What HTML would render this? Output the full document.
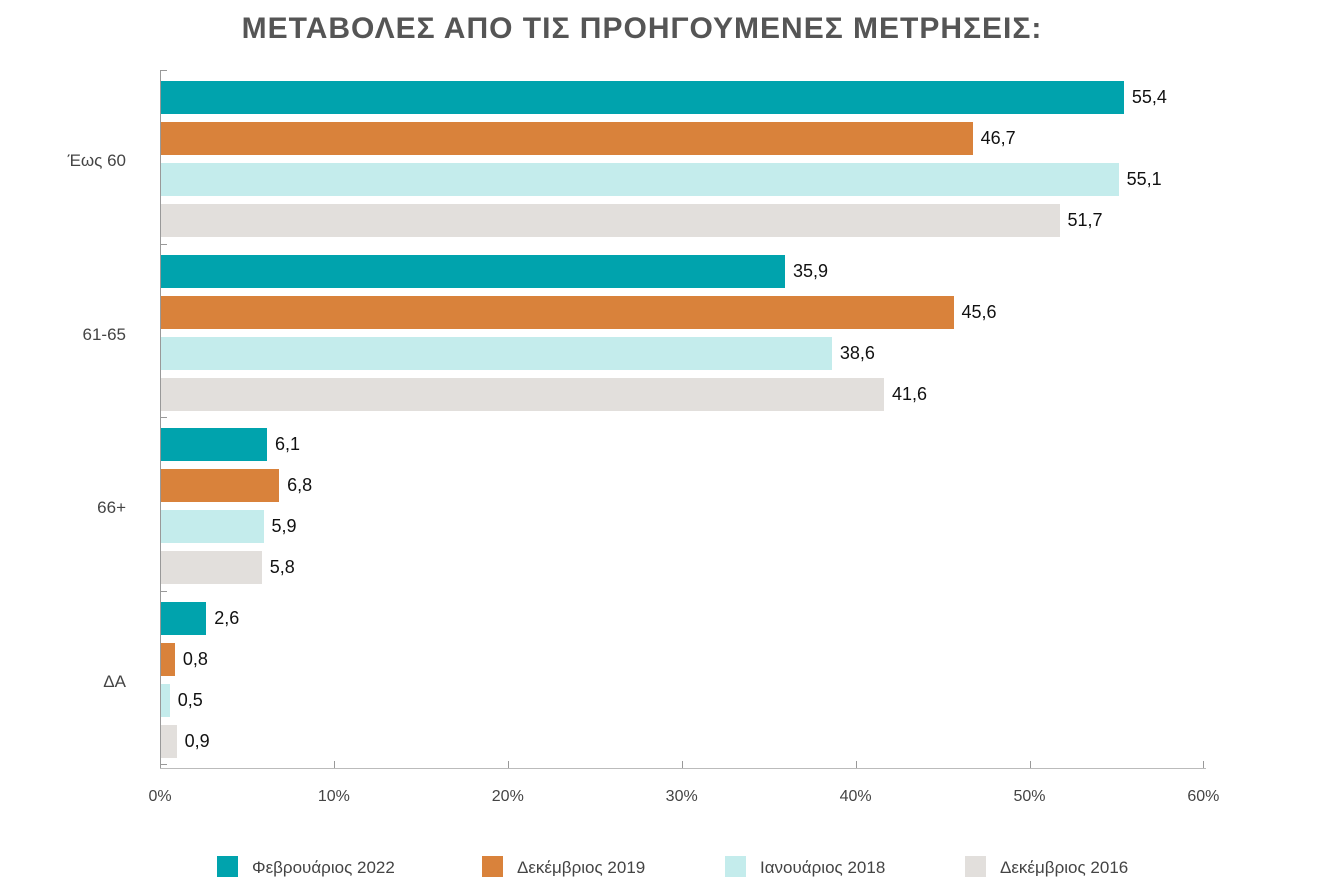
<!DOCTYPE html>
<html><head><meta charset="utf-8"><style>
body{margin:0;width:1344px;height:892px;background:#fff;position:relative;font-family:"Liberation Sans","DejaVu Sans",sans-serif;overflow:hidden}
.a{position:absolute}
.bar{position:absolute;height:33px}
.v{position:absolute;font-size:18px;color:#111;line-height:33px;font-weight:500}
.c{position:absolute;font-size:17px;color:#444;width:120px;text-align:right}
.t{position:absolute;font-size:16px;color:#444;top:788px;width:80px;text-align:center}
.lg{position:absolute;top:856px;font-size:17px;color:#444;line-height:22px}
.lg i{display:inline-block;width:21px;height:21px;vertical-align:-4px;margin-right:14px}
</style></head><body>
<div class="a" style="left:0;width:1284px;top:12px;text-align:center;font-size:30px;font-weight:bold;color:#555;letter-spacing:1px">ΜΕΤΑΒΟΛΕΣ ΑΠΟ ΤΙΣ ΠΡΟΗΓΟΥΜΕΝΕΣ ΜΕΤΡΗΣΕΙΣ:</div>
<div class="a" style="left:160px;top:70px;width:1px;height:698px;background:#999"></div>
<div class="a" style="left:160px;top:768px;width:1046px;height:1px;background:#bbb"></div>
<div id="g"></div>
<div class="c" style="left:6px;top:151px">Έως 60</div>
<div class="c" style="left:6px;top:325px">61-65</div>
<div class="c" style="left:6px;top:498px">66+</div>
<div class="c" style="left:6px;top:672px">ΔΑ</div>
<div class="lg" style="left:217px"><i style="background:#00a3ad"></i>Φεβρουάριος 2022</div>
<div class="lg" style="left:482px"><i style="background:#d9823b"></i>Δεκέμβριος 2019</div>
<div class="lg" style="left:725px"><i style="background:#c4ecec"></i>Ιανουάριος 2018</div>
<div class="lg" style="left:965px"><i style="background:#e2dfdc"></i>Δεκέμβριος 2016</div>
<script>
var d=[[55.4,46.7,55.1,51.7],[35.9,45.6,38.6,41.6],[6.1,6.8,5.9,5.8],[2.6,0.8,0.5,0.9]];
var col=["#00a3ad","#d9823b","#c4ecec","#e2dfdc"],s=17.38,h="";
for(var g=0;g<4;g++){for(var i=0;i<4;i++){var y=Math.round(81+g*173.5+i*41),w=d[g][i]*s;
h+='<div class="bar" style="left:161px;top:'+y+'px;width:'+w+'px;background:'+col[i]+'"></div>';
h+='<div class="v" style="left:'+(161+w+8)+'px;top:'+y+'px">'+d[g][i].toFixed(1).replace(".",",")+'</div>';}}
for(var k=0;k<5;k++)h+='<div class="a" style="left:160px;top:'+(70+k*173.5)+'px;width:7px;height:1px;background:#999"></div>';
for(var k=0;k<=6;k++){var x=160+k*173.9;h+='<div class="a" style="left:'+x+'px;top:761px;width:1px;height:7px;background:#999"></div><div class="t" style="left:'+(x-40)+'px">'+(k*10)+'%</div>';}
document.getElementById("g").innerHTML=h;
</script>
</body></html>
